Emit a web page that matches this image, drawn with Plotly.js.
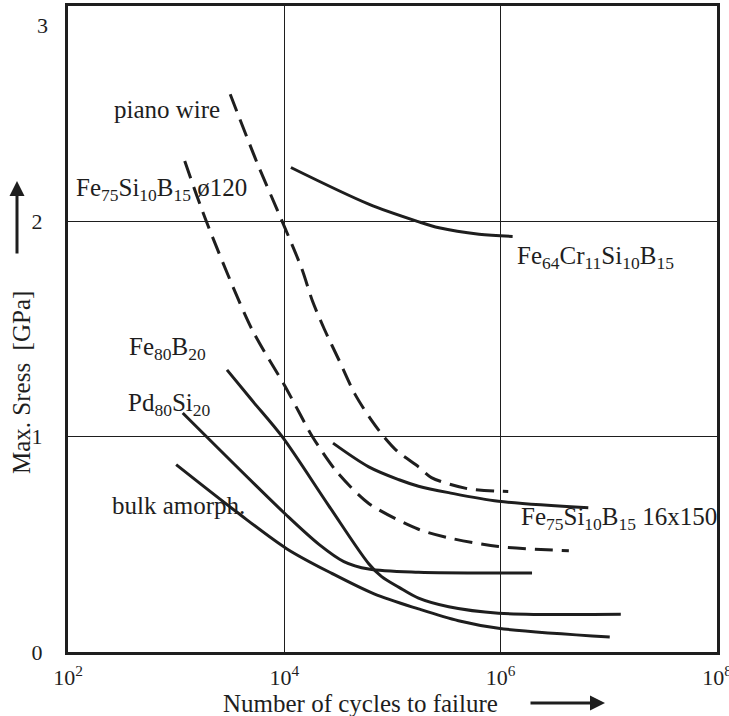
<!DOCTYPE html>
<html>
<head>
<meta charset="utf-8">
<script src="https://cdn.plot.ly/plotly-3.0.1.min.js"></script>
<style>html,body{margin:0;padding:0;background:#fff;}#chart{width:729px;height:716px;}</style>
</head>
<body>
<div id="chart"></div>
<script>
// ---- data (N = number of cycles, S = max stress in GPa) ----
const pianoWireN = [3160, 5620, 9550, 14500, 18200, 23400, 32400, 44700, 63100, 83200, 112000, 174000, 229000, 479000, 1175000];
const pianoWireS = [2.59, 2.27, 2.00, 1.78, 1.63, 1.50, 1.35, 1.20, 1.08, 1.00, 0.93, 0.86, 0.81, 0.76, 0.745];

const fe75Phi120N = [1200, 1900, 5000, 10000, 13800, 18200, 30200, 60300, 174000, 331000, 955000, 4270000];
const fe75Phi120S = [2.28, 2.00, 1.50, 1.24, 1.11, 1.00, 0.84, 0.69, 0.57, 0.53, 0.49, 0.47];

const fe64CrN = [11500, 60300, 170000, 269000, 631000, 1290000];
const fe64CrS = [2.25, 2.08, 2.00, 1.97, 1.94, 1.93];

const fe75RibbonN = [28200, 60300, 115000, 174000, 331000, 955000, 6460000];
const fe75RibbonS = [0.97, 0.86, 0.80, 0.77, 0.74, 0.70, 0.67];

const fe80B20N = [2950, 5000, 9550, 25700, 60300, 79400, 115000, 174000, 331000, 955000, 12900000];
const fe80B20S = [1.31, 1.17, 1.00, 0.68, 0.41, 0.35, 0.30, 0.25, 0.21, 0.18, 0.175];

const pd80Si20N = [1150, 10500, 20900, 35500, 60300, 174000, 1950000];
const pd80Si20S = [1.11, 0.635, 0.50, 0.42, 0.385, 0.37, 0.367];

const bulkN = [1000, 3630, 10500, 27500, 67600, 174000, 407000, 955000, 10200000];
const bulkS = [0.87, 0.65, 0.48, 0.365, 0.27, 0.20, 0.145, 0.11, 0.07];

const xTickVals = [1e2, 1e4, 1e6, 1e8];
const xTickText = ["10<sup>2</sup>", "10<sup>4</sup>", "10<sup>6</sup>", "10<sup>8</sup>"];
const yTickVals = [0, 1, 2, 3];
const yTickText = ["0", "1", "2", "3"];

const xTitle = "Number of cycles to failure";
const yTitle = "Max. Sress  [GPa]";

const seriesLabels = {
  piano: "piano wire",
  phi120: "Fe<sub>75</sub>Si<sub>10</sub>B<sub>15</sub> ø120",
  fe64: "Fe<sub>64</sub>Cr<sub>11</sub>Si<sub>10</sub>B<sub>15</sub>",
  fe80: "Fe<sub>80</sub>B<sub>20</sub>",
  pd80: "Pd<sub>80</sub>Si<sub>20</sub>",
  bulk: "bulk amorph.",
  ribbon: "Fe<sub>75</sub>Si<sub>10</sub>B<sub>15</sub> 16x150"
};

// ---- chart ----
const ink = "#1e1e1e";
const FONT = "Liberation Serif, Times New Roman, serif";
const solid = {color: ink, width: 3, shape: "spline", smoothing: 0.9, simplify: false};
const dashed = {color: ink, width: 3, shape: "spline", smoothing: 0.8, simplify: false, dash: "18px,9px"};

const traces = [
  {x: pianoWireN, y: pianoWireS, mode: "lines", line: dashed},
  {x: fe75Phi120N, y: fe75Phi120S, mode: "lines", line: dashed},
  {x: fe64CrN, y: fe64CrS, mode: "lines", line: solid},
  {x: fe75RibbonN, y: fe75RibbonS, mode: "lines", line: solid},
  {x: fe80B20N, y: fe80B20S, mode: "lines", line: solid},
  {x: pd80Si20N, y: pd80Si20S, mode: "lines", line: solid},
  {x: bulkN, y: bulkS, mode: "lines", line: solid}
];

const LBL = 25;
function lab(text, x, y) {
  return {text: text, x: x, y: y, xref: "x", yref: "y", xanchor: "left", yanchor: "middle",
          showarrow: false, font: {family: FONT, size: LBL, color: ink}};
}

const annotations = [
  lab(seriesLabels.piano, 2.41, 2.52),
  lab(seriesLabels.phi120, 2.06, 2.15),
  lab(seriesLabels.fe64, 6.13, 1.83),
  lab(seriesLabels.fe80, 2.55, 1.41),
  lab(seriesLabels.pd80, 2.54, 1.15),
  lab(seriesLabels.bulk, 2.39, 0.68),
  lab(seriesLabels.ribbon, 6.17, 0.62),
  // top tick label (drawn slightly lower as in the original)
  {text: yTickText[3], x: 0, y: 1, xref: "paper", yref: "paper", xanchor: "right", yanchor: "middle",
   xshift: -18, yshift: -19, showarrow: false, font: {family: FONT, size: 22, color: ink}},
  // axis titles
  {text: xTitle, x: (360 - 68) / 649, y: (652 - 703) / 646, xref: "paper", yref: "paper",
   xanchor: "center", yanchor: "middle", showarrow: false, font: {family: FONT, size: LBL, color: ink}},
  {text: yTitle, x: (21 - 68) / 649, y: (652 - 383) / 646, xref: "paper", yref: "paper",
   xanchor: "center", yanchor: "middle", textangle: -90, showarrow: false,
   font: {family: FONT, size: LBL, color: ink}},
  // arrows
  {text: "", x: (605 - 68) / 649, y: (652 - 703) / 646, xref: "paper", yref: "paper",
   showarrow: true, ax: -76, ay: 0, arrowhead: 2, arrowsize: 1, arrowwidth: 3, arrowcolor: ink},
  {text: "", x: (17 - 68) / 649, y: (652 - 181) / 646, xref: "paper", yref: "paper",
   showarrow: true, ax: 0, ay: 74, arrowhead: 2, arrowsize: 1, arrowwidth: 3, arrowcolor: ink}
];

const layout = {
  width: 729, height: 716,
  margin: {l: 68, r: 12, t: 6, b: 64, pad: 0},
  paper_bgcolor: "#fff", plot_bgcolor: "#fff",
  showlegend: false,
  font: {family: FONT, size: 22, color: ink},
  xaxis: {
    type: "log", range: [2, 8.0001], tickvals: xTickVals, ticktext: xTickText,
    showgrid: true, gridcolor: ink, gridwidth: 1.5, zeroline: false,
    showline: true, linecolor: ink, linewidth: 3, mirror: true,
    ticks: "", ticklabelstandoff: 4, ticklabeloverflow: "allow",
    tickfont: {family: FONT, size: 22, color: ink},
    automargin: false, fixedrange: true
  },
  yaxis: {
    range: [0, 3], tickvals: yTickVals.slice(0, 3), ticktext: yTickText.slice(0, 3),
    showgrid: true, gridcolor: ink, gridwidth: 1.5, zeroline: false,
    showline: true, linecolor: ink, linewidth: 3, mirror: true,
    ticks: "", ticklabelstandoff: 18, tickfont: {family: FONT, size: 22, color: ink},
    automargin: false, fixedrange: true
  },
  annotations: annotations
};

Plotly.newPlot("chart", traces, layout, {displayModeBar: false, staticPlot: true});
</script>
</body>
</html>
